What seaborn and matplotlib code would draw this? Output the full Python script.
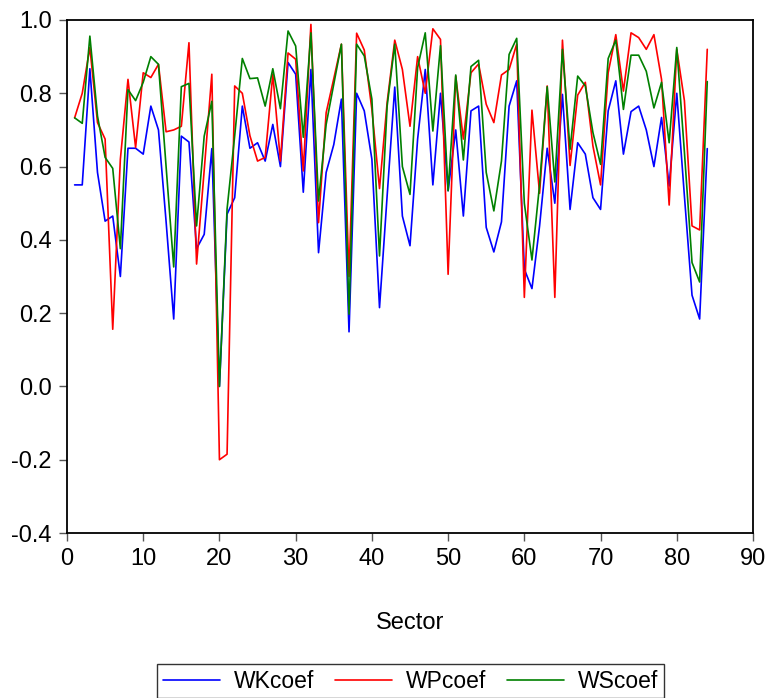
import numpy as np
import pandas as pd
import matplotlib
matplotlib.use("Agg")
import matplotlib.pyplot as plt
import seaborn as sns
from matplotlib.lines import Line2D

sector = list(range(1, 85))

wk_coef = [0.55, 0.55, 0.867, 0.584, 0.451, 0.465, 0.30, 0.65, 0.65, 0.634,
           0.765, 0.70, 0.45, 0.184, 0.683, 0.667, 0.376, 0.415, 0.649, 0.0,
           0.47, 0.515, 0.765, 0.65, 0.665, 0.615, 0.715, 0.60, 0.884, 0.852,
           0.53, 0.865, 0.365, 0.584, 0.66, 0.784, 0.149, 0.80, 0.752, 0.62,
           0.215, 0.52, 0.817, 0.465, 0.384, 0.675, 0.865, 0.55, 0.80, 0.534,
           0.70, 0.465, 0.752, 0.765, 0.434, 0.367, 0.449, 0.765, 0.834, 0.32,
           0.267, 0.438, 0.65, 0.50, 0.797, 0.483, 0.665, 0.634, 0.515, 0.483,
           0.752, 0.834, 0.634, 0.75, 0.765, 0.70, 0.60, 0.734, 0.547, 0.80,
           0.52, 0.249, 0.184, 0.649]

wp_coef = [0.733, 0.80, 0.925, 0.72, 0.675, 0.156, 0.62, 0.838, 0.652, 0.856,
           0.843, 0.879, 0.695, 0.70, 0.71, 0.938, 0.334, 0.59, 0.852, -0.20,
           -0.185, 0.82, 0.80, 0.684, 0.615, 0.625, 0.852, 0.615, 0.91, 0.893,
           0.588, 0.988, 0.447, 0.747, 0.84, 0.934, 0.30, 0.964, 0.918, 0.756,
           0.54, 0.775, 0.945, 0.865, 0.71, 0.90, 0.80, 0.976, 0.947, 0.306,
           0.847, 0.675, 0.856, 0.88, 0.77, 0.72, 0.85, 0.865, 0.934, 0.243,
           0.754, 0.527, 0.82, 0.243, 0.945, 0.603, 0.795, 0.83, 0.656, 0.55,
           0.856, 0.96, 0.806, 0.965, 0.952, 0.92, 0.96, 0.838, 0.495, 0.92,
           0.78, 0.438, 0.427, 0.92]

ws_coef = [0.733, 0.718, 0.956, 0.738, 0.625, 0.595, 0.376, 0.81, 0.78, 0.83,
           0.90, 0.879, 0.60, 0.326, 0.818, 0.827, 0.438, 0.683, 0.778, 0.0,
           0.484, 0.684, 0.895, 0.84, 0.842, 0.765, 0.867, 0.758, 0.97, 0.929,
           0.68, 0.965, 0.506, 0.715, 0.825, 0.934, 0.197, 0.934, 0.902, 0.784,
           0.356, 0.765, 0.934, 0.60, 0.524, 0.87, 0.965, 0.697, 0.93, 0.534,
           0.85, 0.618, 0.873, 0.89, 0.584, 0.479, 0.615, 0.906, 0.95, 0.50,
           0.345, 0.55, 0.818, 0.558, 0.92, 0.647, 0.847, 0.82, 0.693, 0.606,
           0.895, 0.945, 0.756, 0.904, 0.904, 0.86, 0.76, 0.83, 0.665, 0.925,
           0.64, 0.338, 0.285, 0.832]

series_names = ["WKcoef", "WPcoef", "WScoef"]
colors = ["#0000ff", "#ff0000", "#008000"]

df = pd.DataFrame({"Sector": sector * 3,
                   "value": wk_coef + wp_coef + ws_coef,
                   "series": [n for n in series_names for _ in sector]})

sns.set_theme(style="ticks")
plt.rcParams["font.family"] = ["Liberation Sans", "DejaVu Sans"]
plt.rcParams["axes.unicode_minus"] = False
plt.rcParams["text.color"] = "black"
plt.rcParams["axes.labelcolor"] = "black"
plt.rcParams["xtick.color"] = "black"
plt.rcParams["ytick.color"] = "black"

fig = plt.figure(figsize=(7.67, 6.98), dpi=100)
ax = fig.add_axes([67 / 767, 1 - 533 / 698, (753 - 67) / 767, (533 - 20) / 698])

sns.lineplot(data=df, x="Sector", y="value", hue="series",
             hue_order=series_names, palette=colors, linewidth=1.2,
             ax=ax, legend=False, estimator=None)

ax.set_xlim(0, 90)
ax.set_ylim(-0.4, 1.0)
ax.set_xticks(np.arange(0, 91, 10))
ax.set_yticks(np.arange(-0.4, 1.01, 0.2))
ax.set_yticklabels([f"{v:.1f}" for v in np.arange(-0.4, 1.01, 0.2)])
ax.tick_params(axis="both", labelsize=17, direction="out", length=6, width=1,
               color="#555555", labelcolor="black", pad=5)
for s in ax.spines.values():
    s.set_linewidth(1.3)
    s.set_color("black")
ax.set_xlabel("Sector", fontsize=17, labelpad=30, color="black")
ax.set_ylabel("")

handles = [Line2D([], [], color=c, lw=1.2) for c in colors]
leg = fig.legend(handles, series_names, loc="upper center",
                 bbox_to_anchor=(0.535, 1 - 664 / 698), ncol=3, fontsize=16.5,
                 frameon=True, fancybox=False, edgecolor="black",
                 handlelength=2.5, columnspacing=0.9, borderpad=0.25,
                 handletextpad=0.6, borderaxespad=0)
leg.get_frame().set_linewidth(1.0)

fig.savefig("out.png", dpi=100)
